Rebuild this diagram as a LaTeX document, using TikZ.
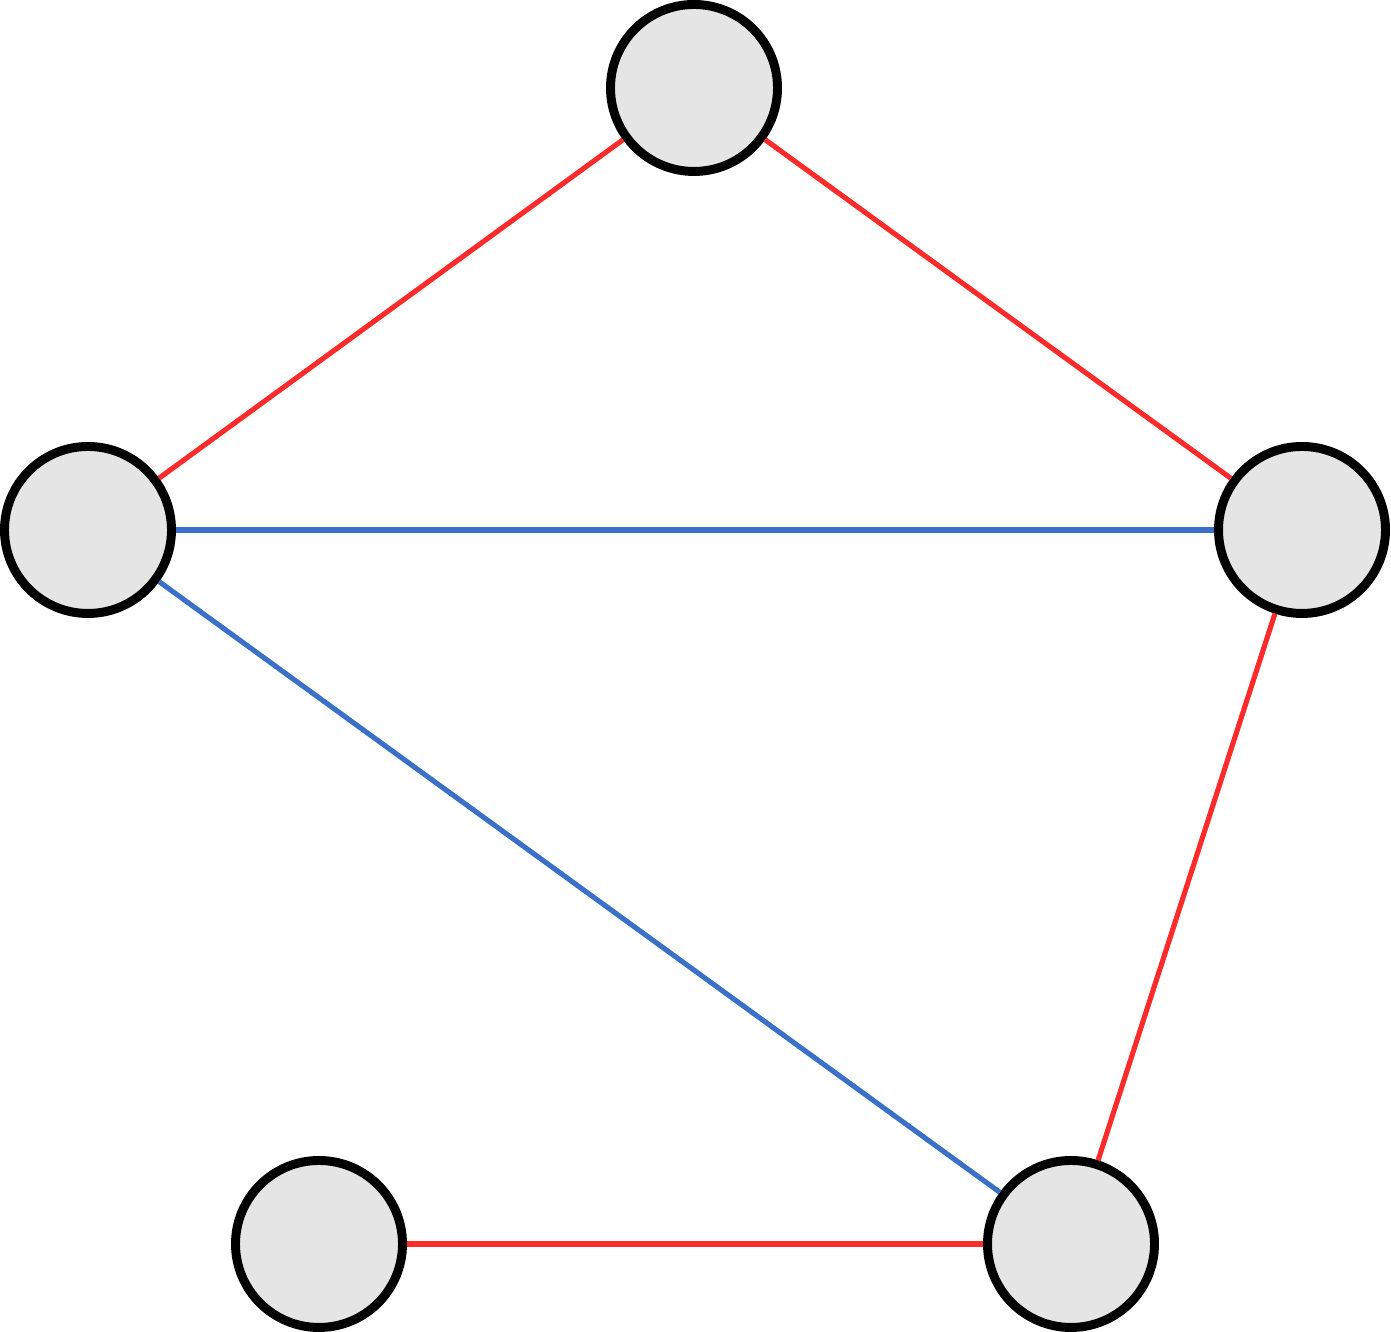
\documentclass[tikz,border=0pt]{standalone}
\begin{document}
\definecolor{edgered}{RGB}{255,42,42}
\definecolor{edgeblue}{RGB}{58,112,200}
\begin{tikzpicture}[
        vertex/.style={circle,draw=black,fill=black!10,line width=2.55pt,
            minimum size=1.67cm,inner sep=0pt},
        redge/.style={color=edgered,line width=1.45pt},
        bedge/.style={color=edgeblue,line width=1.45pt}]
    \useasboundingbox (0,0) rectangle (13.91,13.32);

\node[vertex] (top) at (6.94,12.44) {};
\node[vertex] (left) at (0.88,8.02) {};
\node[vertex] (right) at (13.02,8.02) {};
\node[vertex] (botr) at (10.71,0.88) {};
\node[vertex] (botl) at (3.19,0.88) {};

\draw[redge] (top) -- (left);
\draw[redge] (top) -- (right);
\draw[bedge] (left) -- (right);
\draw[bedge] (left) -- (botr);
\draw[redge] (right) -- (botr);
\draw[redge] (botl) -- (botr);
\end{tikzpicture}
\end{document}
